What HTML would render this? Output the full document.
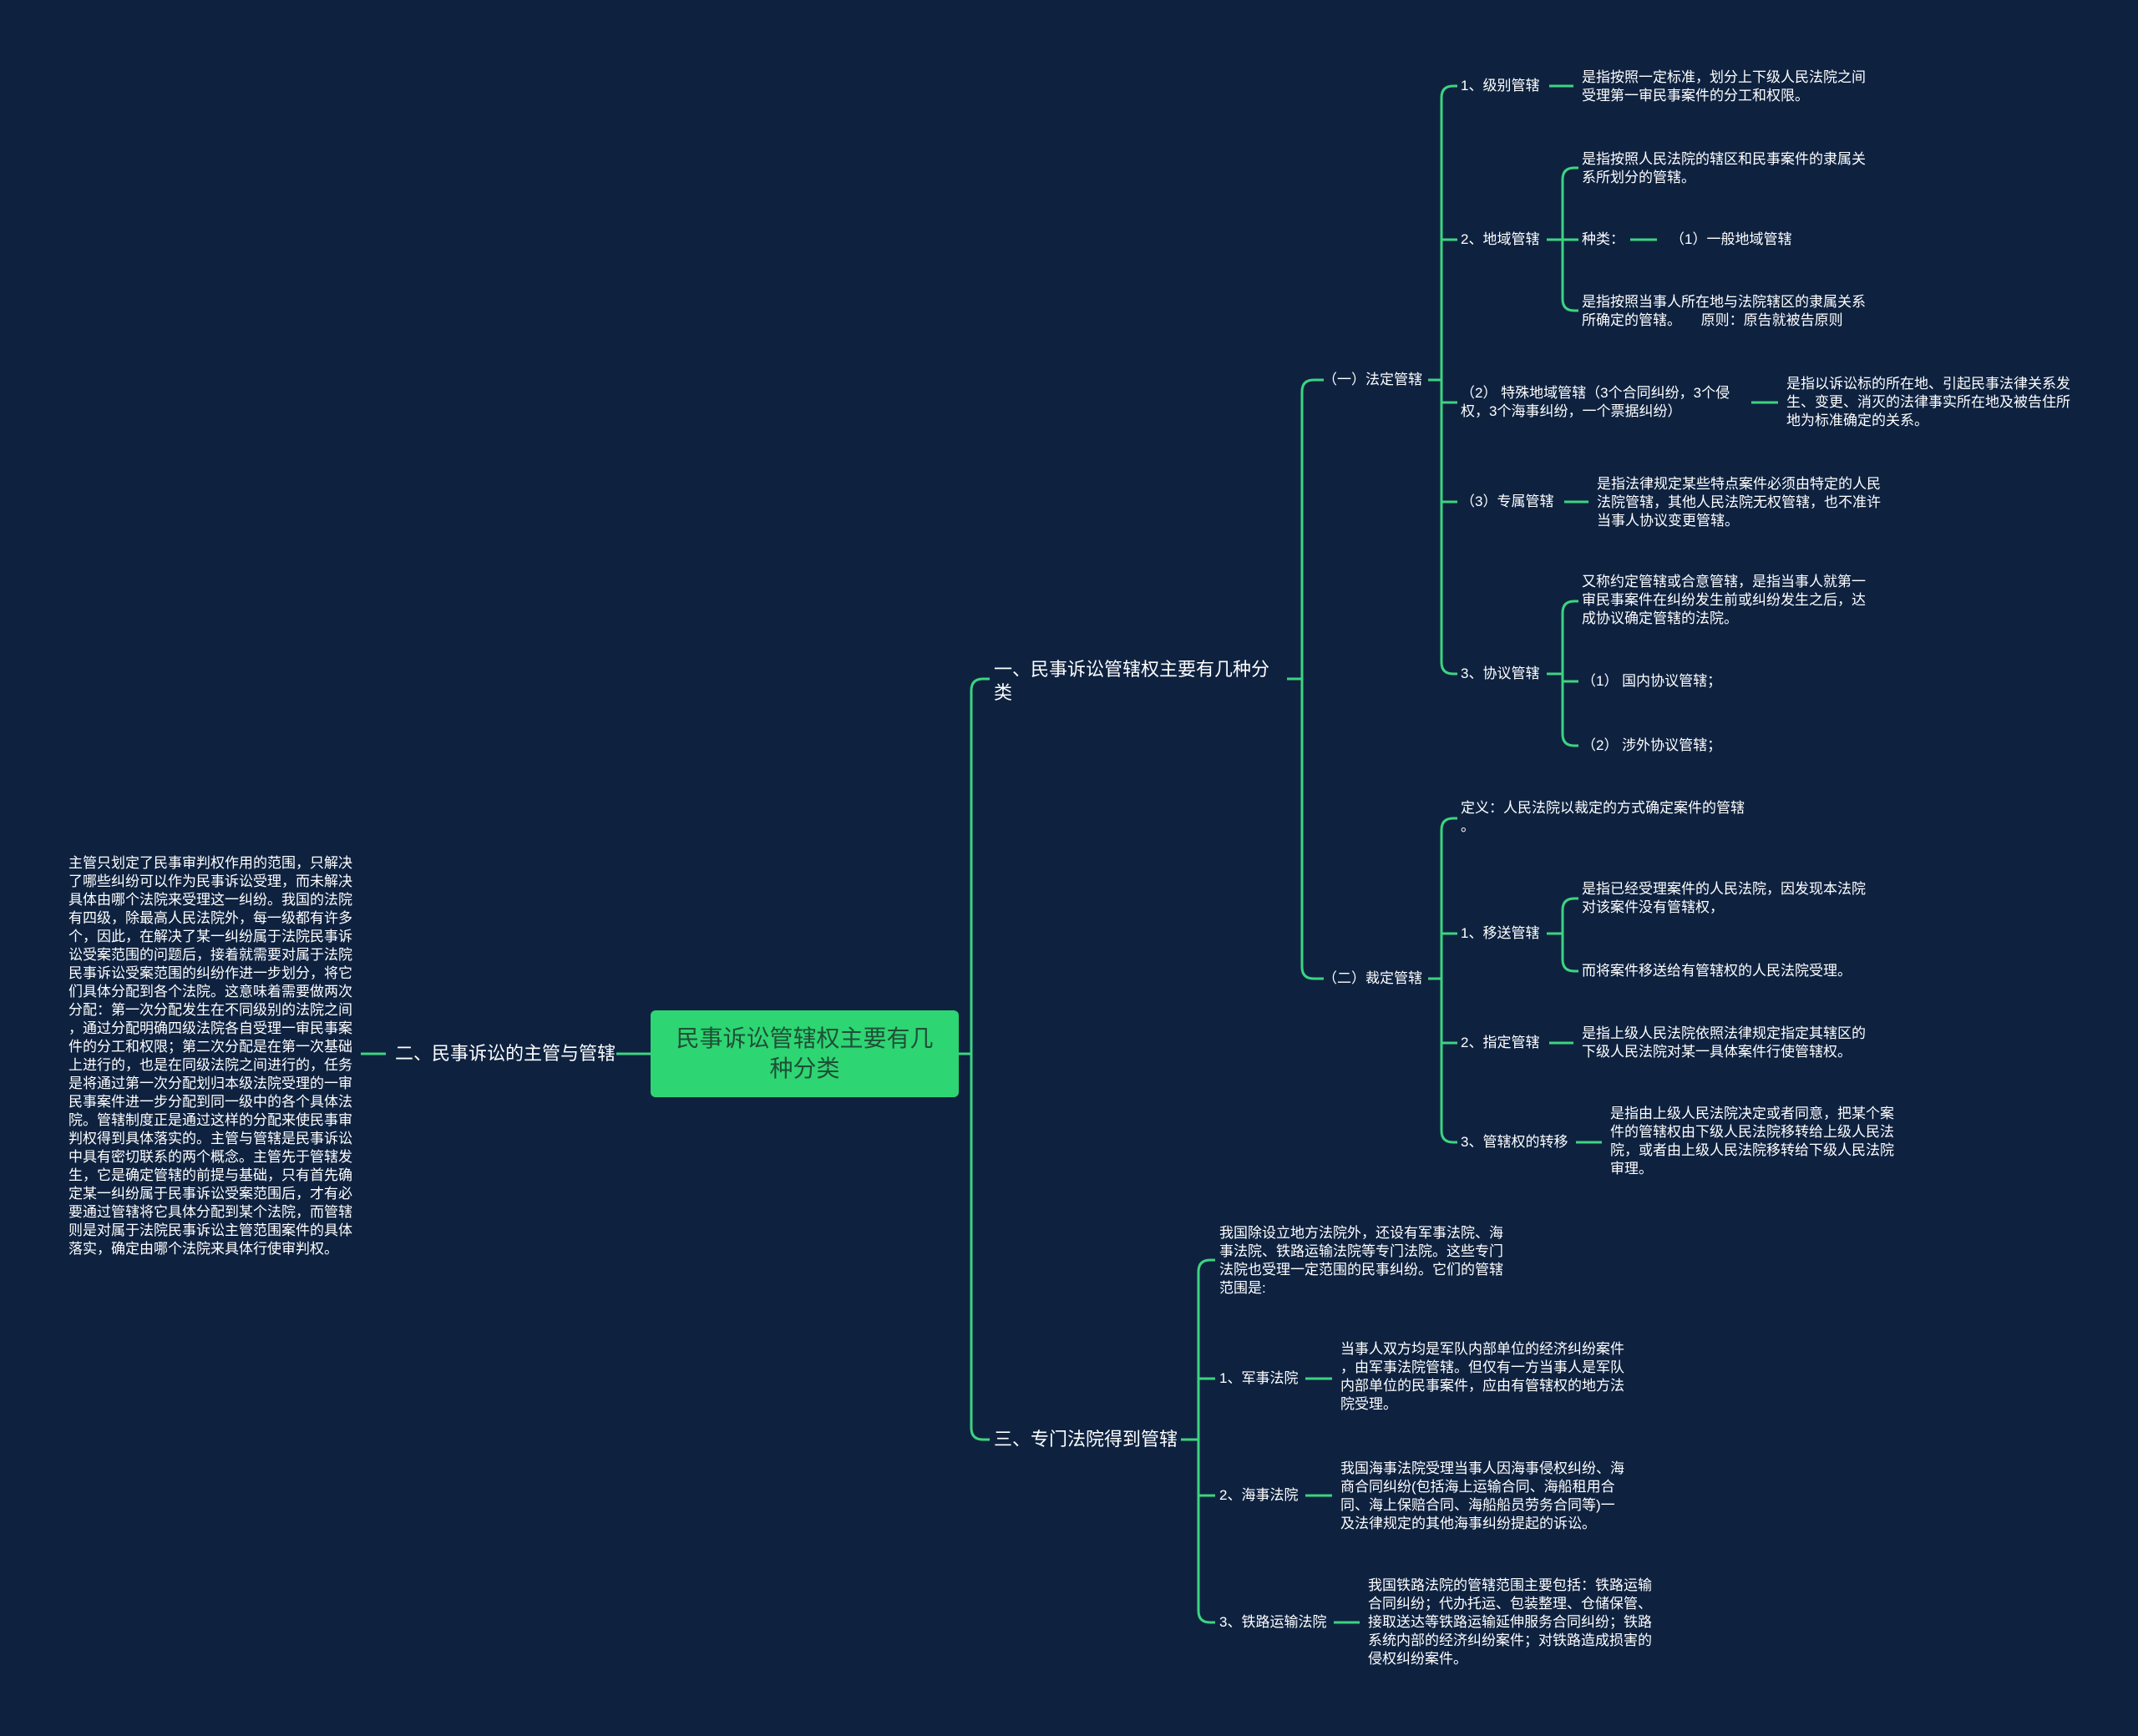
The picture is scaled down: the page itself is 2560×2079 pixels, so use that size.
<!DOCTYPE html>
<html><head><meta charset="utf-8">
<style>
html,body{margin:0;padding:0;background:#0e2240;}
#c{position:relative;width:2560px;height:2079px;overflow:hidden;background:#0e2240;font-family:"Liberation Sans","Noto Sans CJK SC",sans-serif;color:#fff;}
.t{position:absolute;white-space:pre;font-size:17px;line-height:22px;color:#fff;}
.b{font-size:22px;line-height:28px;}
#center{position:absolute;left:779px;top:1210px;width:369px;height:104px;background:#2ed573;border-radius:6px;color:#1f4f36;font-size:28px;line-height:36px;text-align:center;display:flex;align-items:center;justify-content:center;}
svg{position:absolute;left:0;top:0;}
</style></head><body>
<div id="c">
<svg id="s" width="2560" height="2079"></svg>
<div id="center">民事诉讼管辖权主要有几<br>种分类</div>
</div>
<script>
var c=document.getElementById('c'),s=document.getElementById('s'),d='';
function T(x,y,txt,big){var e=document.createElement('div');e.className='t'+(big?' b':'');var lh=big?28:22;e.style.left=x+'px';e.style.top=(y-lh/2)+'px';e.textContent=txt;c.appendChild(e);}
function H(x1,x2,y){d+='M'+x1+' '+y+'H'+x2;}
function B(px1,x,py,ys,ex){var r=14;H(px1,x,py);var a=Math.min.apply(0,ys),b=Math.max.apply(0,ys);d+='M'+x+' '+(a+r)+'V'+(b-r);ys.forEach(function(y){if(y==a)d+='M'+x+' '+(y+r)+'Q'+x+' '+y+' '+(x+r)+' '+y+'H'+ex;else if(y==b)d+='M'+x+' '+(y-r)+'Q'+x+' '+y+' '+(x+r)+' '+y+'H'+ex;else H(x,ex,y);});}
H(432,462,1262);H(738,779,1262);
T(473,1262,'二、民事诉讼的主管与管辖',1);
T(82,1034,'主管只划定了民事审判权作用的范围，只解决\n了哪些纠纷可以作为民事诉讼受理，而未解决\n具体由哪个法院来受理这一纠纷。我国的法院\n有四级，除最高人民法院外，每一级都有许多\n个，因此，在解决了某一纠纷属于法院民事诉\n讼受案范围的问题后，接着就需要对属于法院\n民事诉讼受案范围的纠纷作进一步划分，将它\n们具体分配到各个法院。这意味着需要做两次\n分配：第一次分配发生在不同级别的法院之间\n，通过分配明确四级法院各自受理一审民事案\n件的分工和权限；第二次分配是在第一次基础\n上进行的，也是在同级法院之间进行的，任务\n是将通过第一次分配划归本级法院受理的一审\n民事案件进一步分配到同一级中的各个具体法\n院。管辖制度正是通过这样的分配来使民事审\n判权得到具体落实的。主管与管辖是民事诉讼\n中具有密切联系的两个概念。主管先于管辖发\n生，它是确定管辖的前提与基础，只有首先确\n定某一纠纷属于民事诉讼受案范围后，才有必\n要通过管辖将它具体分配到某个法院，而管辖\n则是对属于法院民事诉讼主管范围案件的具体\n落实，确定由哪个法院来具体行使审判权。');
B(1148,1163,1262,[813,1724],1185);
T(1190,802,'一、民事诉讼管辖权主要有几种分\n类',1);
B(1541,1559,813,[455,1172],1585);
T(1584,455,'（一）法定管辖');
T(1584,1172,'（二）裁定管辖');
B(1710,1726,455,[103,287,482,601,807],1745);
T(1749,103,'1、级别管辖');H(1855,1884,103);
T(1894,93,'是指按照一定标准，划分上下级人民法院之间\n受理第一审民事案件的分工和权限。');
T(1749,287,'2、地域管辖');B(1852,1871,287,[201,287,372],1890);
T(1894,191,'是指按照人民法院的辖区和民事案件的隶属关\n系所划分的管辖。');
T(1894,287,'种类：');H(1952,1984,287);T(2000,287,'（1）一般地域管辖');
T(1894,362,'是指按照当事人所在地与法院辖区的隶属关系\n所确定的管辖。     原则：原告就被告原则');
T(1749,471,'（2） 特殊地域管辖（3个合同纠纷，3个侵\n权，3个海事纠纷，一个票据纠纷）');H(2097,2129,482);
T(2139,460,'是指以诉讼标的所在地、引起民事法律关系发\n生、变更、消灭的法律事实所在地及被告住所\n地为标准确定的关系。');
T(1749,601,'（3）专属管辖');H(1873,1902,601);
T(1912,580,'是指法律规定某些特点案件必须由特定的人民\n法院管辖，其他人民法院无权管辖，也不准许\n当事人协议变更管辖。');
T(1749,807,'3、协议管辖');B(1852,1871,807,[720,816,893],1890);
T(1894,697,'又称约定管辖或合意管辖，是指当事人就第一\n审民事案件在纠纷发生前或纠纷发生之后，达\n成协议确定管辖的法院。');
T(1894,816,'（1） 国内协议管辖；');
T(1894,893,'（2） 涉外协议管辖；');
B(1710,1726,1172,[980,1118,1249,1368],1745);
T(1749,968,'定义：人民法院以裁定的方式确定案件的管辖\n。');
T(1749,1118,'1、移送管辖');B(1852,1871,1118,[1076,1163],1890);
T(1894,1065,'是指已经受理案件的人民法院，因发现本法院\n对该案件没有管辖权，');
T(1894,1163,'而将案件移送给有管辖权的人民法院受理。');
T(1749,1249,'2、指定管辖');H(1855,1884,1249);
T(1894,1238,'是指上级人民法院依照法律规定指定其辖区的\n下级人民法院对某一具体案件行使管辖权。');
T(1749,1368,'3、管辖权的转移');H(1887,1918,1368);
T(1928,1334,'是指由上级人民法院决定或者同意，把某个案\n件的管辖权由下级人民法院移转给上级人民法\n院，或者由上级人民法院移转给下级人民法院\n审理。');
T(1190,1724,'三、专门法院得到管辖',1);
B(1414,1435,1724,[1509,1651,1791,1943],1455);
T(1460,1477,'我国除设立地方法院外，还设有军事法院、海\n事法院、铁路运输法院等专门法院。这些专门\n法院也受理一定范围的民事纠纷。它们的管辖\n范围是:');
T(1460,1651,'1、军事法院');H(1563,1595,1651);
T(1605,1616,'当事人双方均是军队内部单位的经济纠纷案件\n，由军事法院管辖。但仅有一方当事人是军队\n内部单位的民事案件，应由有管辖权的地方法\n院受理。');
T(1460,1791,'2、海事法院');H(1563,1595,1791);
T(1605,1759,'我国海事法院受理当事人因海事侵权纠纷、海\n商合同纠纷(包括海上运输合同、海船租用合\n同、海上保赔合同、海船船员劳务合同等)一\n及法律规定的其他海事纠纷提起的诉讼。');
T(1460,1943,'3、铁路运输法院');H(1597,1628,1943);
T(1638,1899,'我国铁路法院的管辖范围主要包括：铁路运输\n合同纠纷；代办托运、包装整理、仓储保管、\n接取送达等铁路运输延伸服务合同纠纷；铁路\n系统内部的经济纠纷案件；对铁路造成损害的\n侵权纠纷案件。');
s.innerHTML='<path d="'+d+'" fill="none" stroke="#3dd47f" stroke-width="3"/>';
</script>
</body></html>
